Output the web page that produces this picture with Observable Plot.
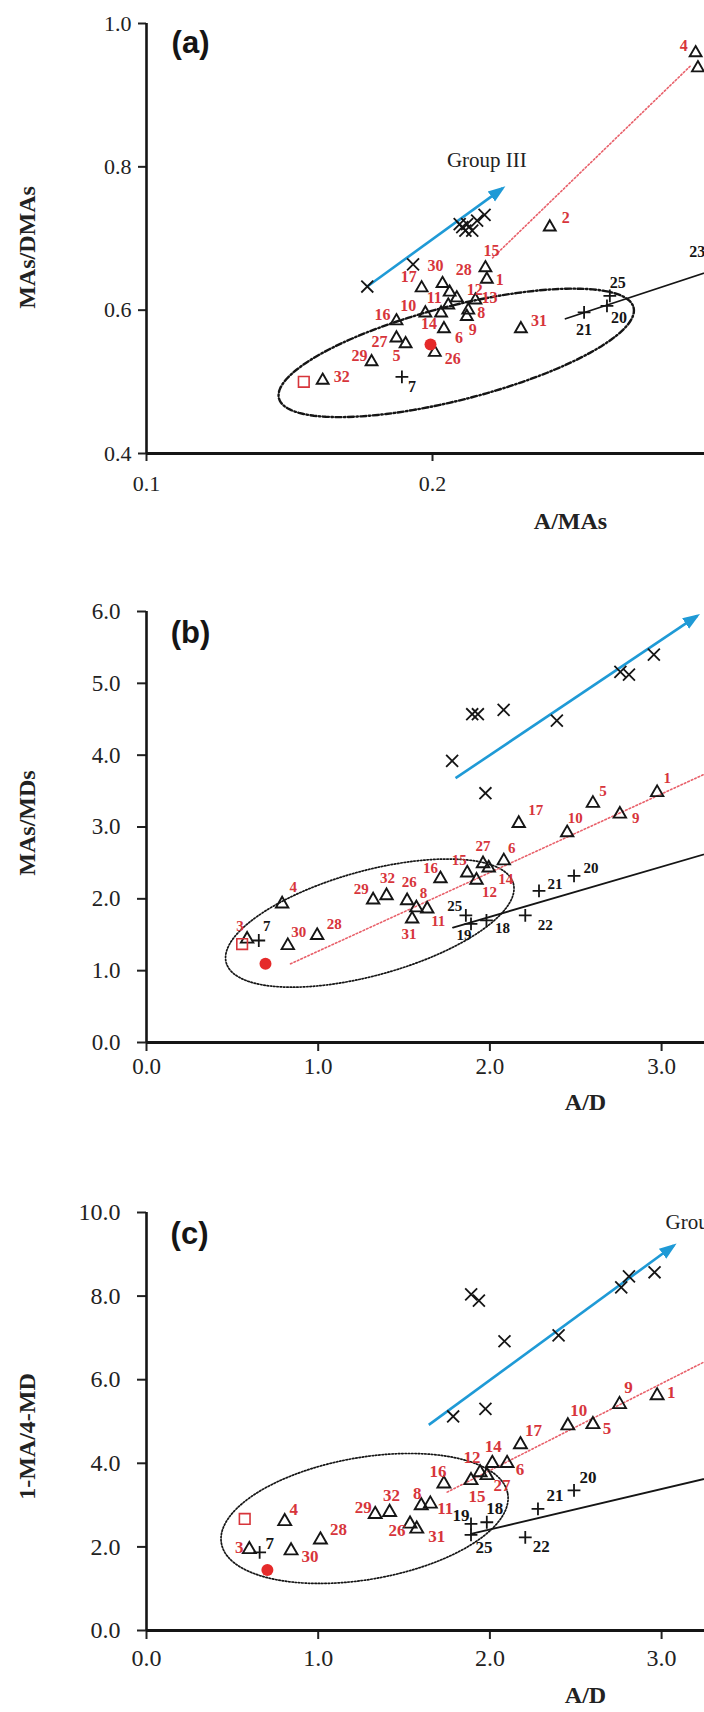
<!DOCTYPE html>
<html><head><meta charset="utf-8">
<script src="https://cdn.jsdelivr.net/npm/d3@7"></script>
<script src="https://cdn.jsdelivr.net/npm/@observablehq/plot@0.6"></script>
<style>
html,body{margin:0;padding:0;background:#fff;overflow:hidden;}
#page{position:relative;width:704px;height:1712px;overflow:hidden;background:#fff;}
.panel{position:absolute;left:0;width:704px;overflow:hidden;}
.panel svg g[aria-label*="axis"] line, .panel svg g[aria-label*="axis tick"] path{stroke-width:2px;}
</style></head><body><div id="page"></div><script>
// ---------- Panel (a) ----------
const aXTicks = [0.1, 0.2];
const aYTicks = [0.4, 0.6, 0.8, 1.0];
const aTriLabel = ["4","","2","15","1","30","17","28","12","13","10","11","14","8","9","16","6","27","5","26","29","31","32"];
const aTriX = [0.2920,0.2928,0.2410,0.2185,0.2190,0.2035,0.1962,0.2060,0.2085,0.2150,0.1975,0.2055,0.2030,0.2125,0.2120,0.1874,0.2040,0.1874,0.1906,0.2008,0.1787,0.2309,0.1616];
const aTriY = [0.959,0.938,0.716,0.659,0.643,0.637,0.631,0.625,0.617,0.614,0.596,0.607,0.596,0.600,0.591,0.585,0.574,0.561,0.553,0.541,0.528,0.574,0.502];
const aPlusLabel = ["7","21","25","20","23"];
const aPlusX = [0.1893,0.2530,0.2620,0.2610,0.3020];
const aPlusY = [0.507,0.597,0.620,0.606,0.660];
const aCrossX = [0.1772,0.1932,0.2104,0.2121,0.2139,0.2156,0.2182,0.2115,0.2095];
const aCrossY = [0.633,0.664,0.716,0.720,0.711,0.725,0.733,0.711,0.720];
const aSquareX = [0.155], aSquareY = [0.500];
const aDotX = [0.1993], aDotY = [0.552];
const aRedLineX = [0.2210, 0.2905], aRedLineY = [0.673, 0.942];
const aBlackLineX = [0.2465, 0.3050], aBlackLineY = [0.588, 0.665];
const aArrowX = [0.1772, 0.2245], aArrowY = [0.633, 0.770];
const aEllipse = {cx:0.2083, cy:0.5404, ux:0.0620, uy:0.0634, vx:0.00409, vy:-0.0634};
const aGroupText = ["Group III"], aGroupX = [0.2190], aGroupY = [0.809];

// ---------- Panel (b) ----------
const bXTicks = [0, 1, 2, 3];
const bYTicks = [0, 1, 2, 3, 4, 5, 6];
const bTriLabel = ["1","5","9","10","17","6","27","14","12","15","16","26","8","11","31","29","32","4","28","30","3"];
const bTriX = [2.974,2.600,2.757,2.450,2.168,2.081,1.960,1.993,1.922,1.868,1.712,1.518,1.572,1.635,1.547,1.320,1.398,0.790,0.994,0.823,0.586];
const bTriY = [3.48,3.33,3.18,2.92,3.05,2.53,2.49,2.43,2.26,2.36,2.28,1.975,1.875,1.860,1.720,1.985,2.045,1.930,1.490,1.350,1.440];
const bPlusLabel = ["7","25","19","18","22","21","20"];
const bPlusX = [0.654,1.860,1.890,1.980,2.206,2.286,2.490];
const bPlusY = [1.42,1.77,1.65,1.70,1.77,2.11,2.32];
const bCrossX = [1.780,1.897,1.930,2.080,1.974,2.390,2.760,2.810,2.955];
const bCrossY = [3.92,4.57,4.57,4.63,3.47,4.48,5.16,5.12,5.40];
const bSquareX = [0.557], bSquareY = [1.37];
const bDotX = [0.693], bDotY = [1.095];
const bRedLineX = [0.839, 3.27], bRedLineY = [1.095, 3.757];
const bBlackLineX = [1.785, 3.30], bBlackLineY = [1.60, 2.655];
const bArrowX = [1.80, 3.207], bArrowY = [3.68, 5.94];
const bEllipse = {cx:1.3005, cy:1.662, ux:0.8363, uy:0.552, vx:0.081, vy:-0.701};

// ---------- Panel (c) ----------
const cXTicks = [0, 1, 2, 3];
const cYTicks = [0, 2, 4, 6, 8, 10];
const cTriLabel = ["1","9","10","5","17","14","6","12","27","15","16","8","11","32","29","26","31","28","30","4","3"];
const cTriX = [2.974,2.755,2.454,2.600,2.178,2.014,2.100,1.943,1.983,1.890,1.732,1.600,1.653,1.416,1.332,1.535,1.574,1.013,0.842,0.805,0.599];
const cTriY = [5.62,5.41,4.90,4.93,4.45,4.00,4.00,3.78,3.71,3.59,3.51,2.99,3.03,2.83,2.78,2.55,2.43,2.17,1.91,2.61,1.94];
const cPlusLabel = ["7","19","18","25","22","21","20"];
const cPlusX = [0.659,1.890,1.982,1.890,2.206,2.280,2.490];
const cPlusY = [1.87,2.55,2.59,2.29,2.23,2.91,3.35];
const cCrossX = [1.891,1.936,2.085,2.400,2.765,2.810,2.959,1.786,1.974];
const cCrossY = [8.04,7.89,6.92,7.06,8.21,8.47,8.57,5.12,5.30];
const cSquareX = [0.572], cSquareY = [2.67];
const cDotX = [0.704], cDotY = [1.45];
const cRedLineX = [1.751, 3.27], cRedLineY = [3.31, 6.47];
const cBlackLineX = [1.89, 3.30], cBlackLineY = [2.31, 3.675];
const cArrowX = [1.644, 3.071], cArrowY = [4.92, 9.21];
const cEllipse = {cx:1.270, cy:2.68, ux:0.834, uy:0.593, vx:0.0606, vy:-1.438};
const cGroupText = ["Group III"], cGroupX = [3.023], cGroupY = [9.77];

// ---------- label placement (px offsets, layout only) ----------
const aTriOff = [[-12,-7],[14,0],[16,-9],[6,-17],[13,1],[-7,-18],[-13,-11],[14,-22],[18,-8],[14,-2],[-17,-7],[-14,-7],[-12,11],[13,3],[6,13],[-14,-6],[15,9],[-17,4],[-9,12],[18,6],[-12,-6],[18,-8],[19,-4]];
const aPlusOff = [[10,10],[0,18],[8,-13],[12,12],[-27,-15]];
const bTriOff = [[10,-14],[10,-12],[16,4],[8,-15],[17,-13],[8,-13],[0,-17],[17,11],[13,12],[-8,-13],[-10,-11],[2,-18],[7,-15],[11,12],[-3,15],[-12,-11],[1,-17],[11,-17],[17,-11],[11,-13],[-7,-13]];
const bPlusOff = [[8,-14],[-11,-9],[-7,11],[16,8],[20,10],[16,-7],[17,-8]];
const cTriOff = [[14,-3],[9,-17],[11,-15],[14,4],[13,-14],[1,-17],[13,6],[-8,-15],[15,10],[6,16],[-6,-12],[-4,-12],[15,5],[2,-17],[-12,-7],[-13,7],[20,8],[18,-10],[19,6],[9,-12],[-10,-2]];
const cPlusOff = [[10,-9],[-10,-8],[8,-14],[13,13],[16,9],[17,-13],[14,-13]];

const serif = "'Liberation Serif','Times New Roman',Times,serif";
const sans = "'Liberation Sans',Arial,Helvetica,sans-serif";
const RED = "#d7353b", BLUE = "#1f9ad6", INK = "#151515";

const table = (xs, ys) => xs.map((x, i) => ({x, y: ys[i]}));
function ellipsePoints(e) {
  return d3.range(0, 361, 3).map(deg => {
    const t = deg * Math.PI / 180;
    return {x: e.cx + e.ux * Math.cos(t) + e.vx * Math.sin(t),
            y: e.cy + e.uy * Math.cos(t) + e.vy * Math.sin(t)};
  });
}
function labelMarks(xs, ys, labels, offs, color, size) {
  const out = [];
  labels.forEach((t, i) => {
    if (!t) return;
    out.push(Plot.text([{x: xs[i], y: ys[i], t}], {
      x: "x", y: "y", text: "t", dx: offs[i][0], dy: offs[i][1],
      fill: color, fontSize: size, fontWeight: "bold", fontFamily: serif
    }));
  });
  return out;
}

function makePanel(p) {
  const marks = [
    Plot.line(ellipsePoints(p.ellipse), {x: "x", y: "y", stroke: INK, strokeWidth: p.ellW, strokeDasharray: p.ellDash}),
    Plot.line(table(p.redX, p.redY), {x: "x", y: "y", stroke: "#e8606a", strokeWidth: 1.6, strokeDasharray: "1.6,2.2"}),
    Plot.line(table(p.blackX, p.blackY), {x: "x", y: "y", stroke: INK, strokeWidth: 1.8}),
    Plot.link([{x1: p.arrowX[0], y1: p.arrowY[0], x2: p.arrowX[1], y2: p.arrowY[1]}],
      {x1: "x1", y1: "y1", x2: "x2", y2: "y2", stroke: BLUE, strokeWidth: 2.6, markerEnd: "arrow"}),
    Plot.ruleX([p.xDomain[0]], {stroke: INK, strokeWidth: 2.6}),
    Plot.ruleY([p.yDomain[0]], {stroke: INK, strokeWidth: 3.2}),
    Plot.dot(table(p.crossX, p.crossY), {x: "x", y: "y", symbol: "times", r: 5.5, stroke: INK, strokeWidth: 1.8}),
    Plot.dot(table(p.triX, p.triY), {x: "x", y: "y", symbol: "triangle", r: p.triR, fill: "none", stroke: INK, strokeWidth: 1.9}),
    Plot.dot(table(p.plusX, p.plusY), {x: "x", y: "y", symbol: "plus", r: 4.2, stroke: INK, strokeWidth: 1.8}),
    Plot.dot(table(p.sqX, p.sqY), {x: "x", y: "y", symbol: "square", r: 6, fill: "none", stroke: RED, strokeWidth: 1.6}),
    Plot.dot(table(p.dotX, p.dotY), {x: "x", y: "y", r: 6, fill: "#e52a2a", stroke: "none"}),
    ...labelMarks(p.triX, p.triY, p.triLabel, p.triOff, RED, p.labelSize),
    ...labelMarks(p.plusX, p.plusY, p.plusLabel, p.plusOff, INK, p.labelSize),
    Plot.text([p.xTitle], {frameAnchor: "bottom", dx: p.xTitleDx, dy: p.xTitleDy, textAnchor: "middle", lineAnchor: "middle",
      fontFamily: serif, fontWeight: "bold", fontSize: 24, fill: "#222"}),
    Plot.text([p.yTitle], {frameAnchor: "left", dx: -119, dy: p.yTitleDy, rotate: -90, textAnchor: "middle", lineAnchor: "middle",
      fontFamily: serif, fontWeight: "bold", fontSize: 24, fill: "#222"}),
    Plot.text([p.letter], {frameAnchor: "top-left", dx: p.letterDx, dy: p.letterDy, textAnchor: "middle", lineAnchor: "middle",
      fontFamily: sans, fontWeight: "bold", fontSize: 31, fill: INK})
  ];
  if (p.groupText) {
    marks.push(Plot.text(p.groupText.map((t, i) => ({t, x: p.groupX[i], y: p.groupY[i]})),
      {x: "x", y: "y", text: "t", textAnchor: p.groupAnchor, fontFamily: serif, fontSize: 21, fill: "#222"}));
  }
  const svg = Plot.plot({
    width: 704, height: p.height,
    marginLeft: 146, marginRight: 0, marginTop: p.mt, marginBottom: p.mb,
    x: {domain: p.xDomain, ticks: p.xTicks, tickFormat: ".1f", tickSize: p.tickSize, tickPadding: p.xPad, label: null},
    y: {domain: p.yDomain, ticks: p.yTicks, tickFormat: ".1f", tickSize: p.tickSize, tickPadding: p.yPad, label: null},
    style: {fontFamily: serif, fontSize: p.tickFont + "px", color: "#222", background: "white", overflow: "hidden"},
    marks
  });
  svg.querySelectorAll("marker").forEach(m => {
    const c = m.getAttribute("stroke") || BLUE;
    m.setAttribute("fill", c);
    m.setAttribute("stroke", "none");
    m.setAttribute("refX", "3");
    const path = m.querySelector("path");
    if (path) path.setAttribute("d", "M-5,-3.6L5,0L-5,3.6Z");
  });
  const div = document.createElement("div");
  div.className = "panel";
  div.style.top = p.top + "px";
  div.style.height = p.height + "px";
  div.appendChild(svg);
  document.getElementById("page").appendChild(div);
}

makePanel({
  top: 0, height: 540, mt: 23, mb: 87,
  xDomain: [0.1, 0.2951], yDomain: [0.4, 1.0], xTicks: aXTicks, yTicks: aYTicks,
  tickSize: 8, xPad: 14, yPad: 7, tickFont: 22,
  ellipse: aEllipse, ellW: 2.4, ellDash: "6,2.5,1.5,2.5",
  redX: aRedLineX, redY: aRedLineY, blackX: aBlackLineX, blackY: aBlackLineY,
  arrowX: aArrowX, arrowY: aArrowY,
  crossX: aCrossX, crossY: aCrossY, triX: aTriX, triY: aTriY, triLabel: aTriLabel, triOff: aTriOff, triR: 4.4,
  plusX: aPlusX, plusY: aPlusY, plusLabel: aPlusLabel, plusOff: aPlusOff,
  sqX: aSquareX, sqY: aSquareY, dotX: aDotX, dotY: aDotY, labelSize: 16,
  xTitle: "A/MAs", xTitleDx: 145, xTitleDy: 68, yTitle: "MAs/DMAs", yTitleDy: 9,
  letter: "(a)", letterDx: 44, letterDy: 20,
  groupText: aGroupText, groupX: aGroupX, groupY: aGroupY, groupAnchor: "middle"
});
makePanel({
  top: 540, height: 590, mt: 71, mb: 88,
  xDomain: [0, 3.2499], yDomain: [0, 6], xTicks: bXTicks, yTicks: bYTicks,
  tickSize: 9, xPad: 6, yPad: 17, tickFont: 23,
  ellipse: bEllipse, ellW: 1.7, ellDash: "1.5,1.8",
  redX: bRedLineX, redY: bRedLineY, blackX: bBlackLineX, blackY: bBlackLineY,
  arrowX: bArrowX, arrowY: bArrowY,
  crossX: bCrossX, crossY: bCrossY, triX: bTriX, triY: bTriY, triLabel: bTriLabel, triOff: bTriOff, triR: 4.6,
  plusX: bPlusX, plusY: bPlusY, plusLabel: bPlusLabel, plusOff: bPlusOff,
  sqX: bSquareX, sqY: bSquareY, dotX: bDotX, dotY: bDotY, labelSize: 15,
  xTitle: "A/D", xTitleDx: 160, xTitleDy: 60, yTitle: "MAs/MDs", yTitleDy: -4,
  letter: "(b)", letterDx: 44, letterDy: 22
});
makePanel({
  top: 1130, height: 582, mt: 82, mb: 82,
  xDomain: [0, 3.2499], yDomain: [0, 10], xTicks: cXTicks, yTicks: cYTicks,
  tickSize: 9, xPad: 9, yPad: 17, tickFont: 24,
  ellipse: cEllipse, ellW: 1.7, ellDash: "1.5,1.8",
  redX: cRedLineX, redY: cRedLineY, blackX: cBlackLineX, blackY: cBlackLineY,
  arrowX: cArrowX, arrowY: cArrowY,
  crossX: cCrossX, crossY: cCrossY, triX: cTriX, triY: cTriY, triLabel: cTriLabel, triOff: cTriOff, triR: 4.8,
  plusX: cPlusX, plusY: cPlusY, plusLabel: cPlusLabel, plusOff: cPlusOff,
  sqX: cSquareX, sqY: cSquareY, dotX: cDotX, dotY: cDotY, labelSize: 17,
  xTitle: "A/D", xTitleDx: 160, xTitleDy: 65, yTitle: "1-MA/4-MD", yTitleDy: 15,
  letter: "(c)", letterDx: 43, letterDy: 22,
  groupText: cGroupText, groupX: cGroupX, groupY: cGroupY, groupAnchor: "start"
});
</script></body></html>
